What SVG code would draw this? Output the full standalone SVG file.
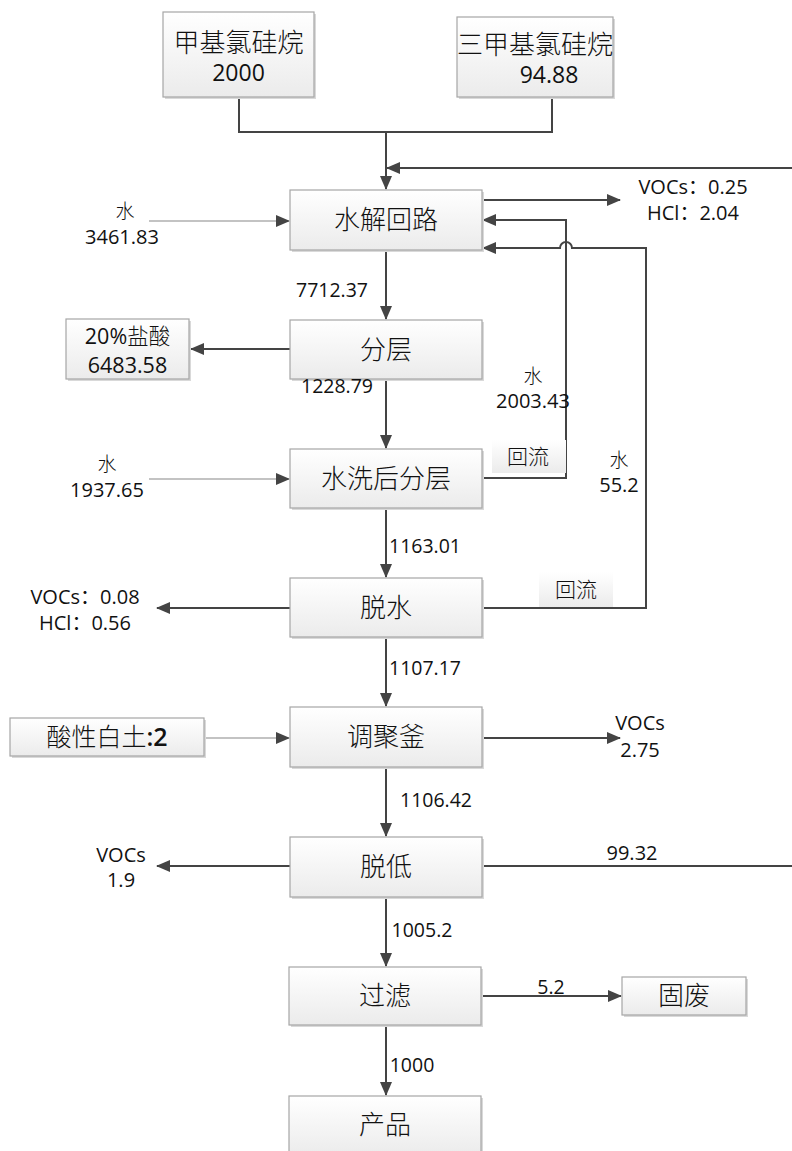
<svg xmlns="http://www.w3.org/2000/svg" width="792" height="1151" viewBox="0 0 792 1151">
<style>
.box{fill:url(#g);stroke:#a6a6a6;stroke-width:1.2}
.sh{fill:#d9d9d9}
.cn{font-family:"Noto Sans CJK SC",sans-serif;fill:#111;font-weight:300}
.num{font-family:"Open Sans","Liberation Sans","Noto Sans CJK SC",sans-serif;fill:#111}
.ln{fill:none;stroke:#444;stroke-width:2}
.thin{fill:none;stroke:#888;stroke-width:1.2}
</style>
<defs>
<linearGradient id="g" x1="0" y1="0" x2="0" y2="1">
<stop offset="0" stop-color="#ffffff"/>
<stop offset="1" stop-color="#ebebeb"/>
</linearGradient>
<marker id="a" markerUnits="userSpaceOnUse" markerWidth="14" markerHeight="12" refX="13" refY="6" orient="auto">
<path d="M0,0 L14,6 L0,12 Z" fill="#444"/>
</marker>
</defs>
<rect width="792" height="1151" fill="#fff"/>

<g id="connectors">
<path class="ln" d="M239,97 V132 H552 V97"/>
<path class="ln" d="M386,132 V189" marker-end="url(#a)"/>
<path class="ln" d="M792,168 H387" marker-end="url(#a)"/>
<path class="thin" d="M149,221 H289" marker-end="url(#a)"/>
<path class="ln" d="M482,200 H620" marker-end="url(#a)"/>
<path class="ln" d="M482,478 H566 V220 H483" marker-end="url(#a)"/>
<path class="ln" d="M482,608 H646 V248 H572 A6,6 0 0 0 560,248 H483" marker-end="url(#a)"/>
<path class="ln" d="M386,250 V319" marker-end="url(#a)"/>
<path class="ln" d="M290,349 H191" marker-end="url(#a)"/>
<path class="ln" d="M386,379 V448" marker-end="url(#a)"/>
<path class="thin" d="M149,479 H289" marker-end="url(#a)"/>
<path class="ln" d="M386,508 V577" marker-end="url(#a)"/>
<path class="ln" d="M290,608 H157" marker-end="url(#a)"/>
<path class="ln" d="M386,637 V706" marker-end="url(#a)"/>
<path class="thin" d="M206,738 H289" marker-end="url(#a)"/>
<path class="ln" d="M482,738 H620" marker-end="url(#a)"/>
<path class="ln" d="M386,767 V836" marker-end="url(#a)"/>
<path class="ln" d="M290,866 H157" marker-end="url(#a)"/>
<path class="ln" d="M482,866 H792"/>
<path class="ln" d="M386,897 V966" marker-end="url(#a)"/>
<path class="ln" d="M482,996 H621" marker-end="url(#a)"/>
<path class="ln" d="M386,1025 V1095" marker-end="url(#a)"/>
</g>

<g id="n1"><rect class="sh" x="165" y="14" width="151" height="85"/><rect class="box" x="163" y="12" width="151" height="85"/>
<text class="cn" x="238.5" y="52" font-size="26" text-anchor="middle">甲基氯硅烷</text>
<text class="num" x="238.5" y="81" font-size="23" text-anchor="middle">2000</text></g>

<g id="n2"><rect class="sh" x="459" y="19" width="156" height="80"/><rect class="box" x="457" y="17" width="156" height="80"/>
<text class="cn" x="535" y="54" font-size="26" text-anchor="middle">三甲基氯硅烷</text>
<text class="num" x="549" y="83" font-size="23" text-anchor="middle">94.88</text></g>

<g id="n3"><rect class="sh" x="292" y="192" width="192" height="60"/><rect class="box" x="290" y="190" width="192" height="60"/>
<text class="cn" x="386" y="229" font-size="26" text-anchor="middle">水解回路</text></g>
<text class="cn" x="125" y="218" font-size="19" text-anchor="middle">水</text>
<text class="num" x="122" y="244" font-size="20" text-anchor="middle">3461.83</text>
<text class="num" x="693" y="194" font-size="20" text-anchor="middle">VOCs：0.25</text>
<text class="num" x="693" y="220" font-size="20" text-anchor="middle">HCl：2.04</text>

<text class="num" x="332" y="297" font-size="19.5" text-anchor="middle">7712.37</text>
<g id="n4"><rect class="sh" x="292" y="322" width="192" height="59"/><rect class="box" x="290" y="320" width="192" height="59"/>
<text class="cn" x="386" y="359" font-size="26" text-anchor="middle">分层</text></g>
<g id="n5"><rect class="sh" x="68" y="321" width="123" height="60"/><rect class="box" x="66" y="319" width="123" height="60"/>
<text class="num" x="127.5" y="344" font-size="21.5" text-anchor="middle">20%<tspan class="cn" font-weight="400">盐酸</tspan></text>
<text class="num" x="127.5" y="373" font-size="21.5" text-anchor="middle">6483.58</text></g>

<text class="cn" x="533" y="383" font-size="19" text-anchor="middle">水</text>
<text class="num" x="533" y="408" font-size="20" text-anchor="middle">2003.43</text>
<text class="num" x="337" y="393" font-size="19.5" text-anchor="middle">1228.79</text>

<g id="n6"><rect class="sh" x="292" y="451" width="192" height="59"/><rect class="box" x="290" y="449" width="192" height="59"/>
<text class="cn" x="386" y="488" font-size="26" text-anchor="middle">水洗后分层</text></g>
<text class="cn" x="107" y="471" font-size="19" text-anchor="middle">水</text>
<text class="num" x="107" y="497" font-size="20" text-anchor="middle">1937.65</text>
<g id="r1"><rect x="492" y="440" width="74" height="33" fill="url(#g)"/>
<text class="cn" x="528" y="464" font-size="21" text-anchor="middle">回流</text></g>
<text class="cn" x="619" y="467" font-size="19" text-anchor="middle">水</text>
<text class="num" x="619" y="492" font-size="20" text-anchor="middle">55.2</text>

<text class="num" x="425" y="553" font-size="19.5" text-anchor="middle">1163.01</text>
<g id="n7"><rect class="sh" x="292" y="580" width="192" height="59"/><rect class="box" x="290" y="578" width="192" height="59"/>
<text class="cn" x="386" y="617" font-size="26" text-anchor="middle">脱水</text></g>
<g id="r2"><rect x="539" y="572" width="74" height="35" fill="url(#g)"/>
<text class="cn" x="576" y="597" font-size="21" text-anchor="middle">回流</text></g>
<text class="num" x="85" y="604" font-size="20" text-anchor="middle">VOCs：0.08</text>
<text class="num" x="85" y="630" font-size="20" text-anchor="middle">HCl：0.56</text>

<text class="num" x="425" y="675" font-size="19.5" text-anchor="middle">1107.17</text>
<g id="n8"><rect class="sh" x="292" y="709" width="192" height="60"/><rect class="box" x="290" y="707" width="192" height="60"/>
<text class="cn" x="386" y="746" font-size="26" text-anchor="middle">调聚釜</text></g>
<g id="n9"><rect class="sh" x="12" y="720" width="194" height="38"/><rect class="box" x="10" y="718" width="194" height="38"/>
<text class="cn" x="107" y="746" font-size="25" text-anchor="middle">酸性白土<tspan class="num" font-weight="600">:2</tspan></text></g>
<text class="num" x="640" y="730" font-size="20" text-anchor="middle">VOCs</text>
<text class="num" x="640" y="757" font-size="20" text-anchor="middle">2.75</text>

<text class="num" x="436" y="807" font-size="19.5" text-anchor="middle">1106.42</text>
<g id="n10"><rect class="sh" x="292" y="839" width="192" height="60"/><rect class="box" x="290" y="837" width="192" height="60"/>
<text class="cn" x="386" y="876" font-size="26" text-anchor="middle">脱低</text></g>
<text class="num" x="121" y="862" font-size="20" text-anchor="middle">VOCs</text>
<text class="num" x="121" y="887" font-size="20" text-anchor="middle">1.9</text>
<text class="num" x="632" y="860" font-size="20" text-anchor="middle">99.32</text>

<text class="num" x="422" y="937" font-size="19.5" text-anchor="middle">1005.2</text>
<g id="n11"><rect class="sh" x="291" y="969" width="192" height="58"/><rect class="box" x="289" y="967" width="192" height="58"/>
<text class="cn" x="385" y="1005" font-size="26" text-anchor="middle">过滤</text></g>
<text class="num" x="551" y="994" font-size="19.5" text-anchor="middle">5.2</text>
<g id="n12"><rect class="sh" x="624" y="979" width="124" height="38"/><rect class="box" x="622" y="977" width="124" height="38"/>
<text class="cn" x="684" y="1005" font-size="26" text-anchor="middle">固废</text></g>

<text class="num" x="412" y="1072" font-size="19.5" text-anchor="middle">1000</text>
<g id="n13"><rect class="sh" x="291" y="1098" width="192" height="60"/><rect class="box" x="289" y="1096" width="192" height="60"/>
<text class="cn" x="385" y="1134" font-size="26" text-anchor="middle">产品</text></g>
</svg>
